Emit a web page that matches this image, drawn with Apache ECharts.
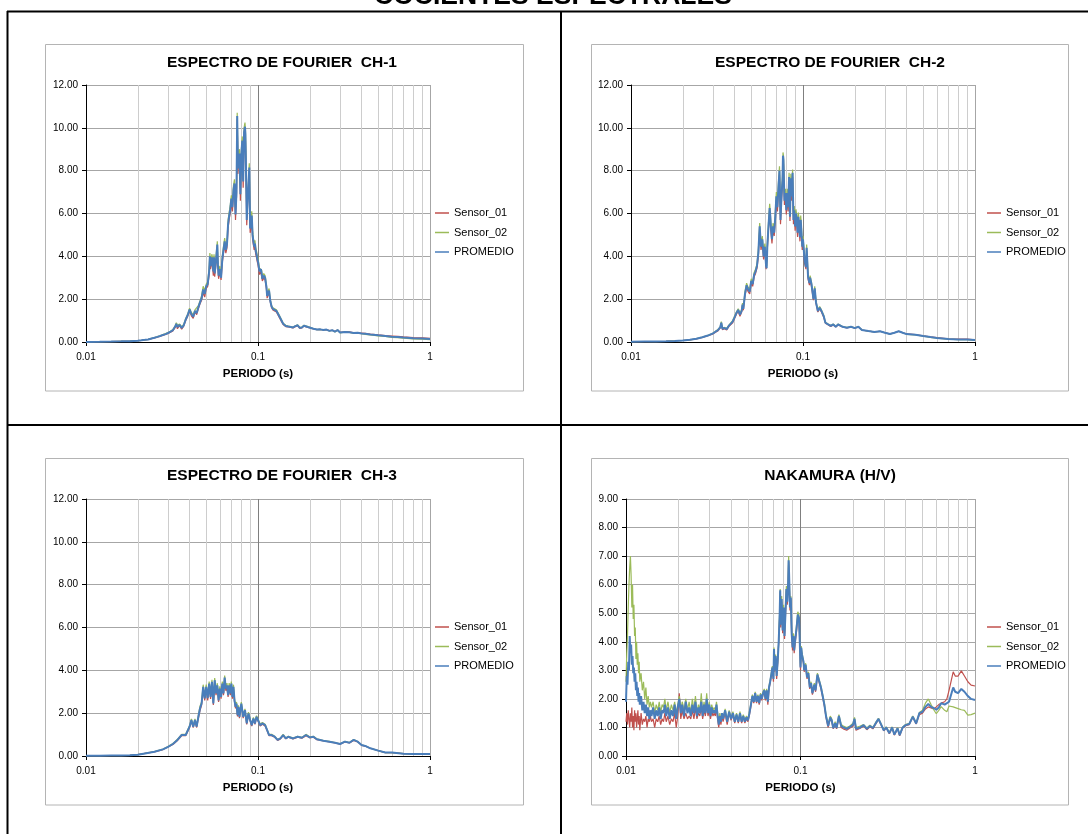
<!DOCTYPE html>
<html>
<head>
<meta charset="utf-8">
<title>COCIENTES ESPECTRALES</title>
<script src="https://cdn.jsdelivr.net/npm/echarts@6/dist/echarts.min.js"></script>
<style>
  html, body { margin: 0; padding: 0; background: #ffffff; }
  #main { width: 1088px; height: 834px; }
</style>
</head>
<body>
<div id="main"></div>
<script>
// ---- Data: periods (s) and spectral amplitudes per channel ----
const seriesNames = ['Sensor_01', 'Sensor_02', 'PROMEDIO'];
const panelTitles = ['ESPECTRO DE FOURIER  CH-1', 'ESPECTRO DE FOURIER  CH-2', 'ESPECTRO DE FOURIER  CH-3', 'NAKAMURA (H/V)'];
const mainTitle = 'COCIENTES ESPECTRALES';
const xAxisName = 'PERIODO (s)';

// CH-1
const ch1Period = [
  0.010,0.012,0.014,0.016,0.018,0.020,0.021,0.022,0.023,0.024,
  0.025,0.026,0.027,0.028,0.029,0.030,0.031,0.032,0.033,0.0335,
  0.034,0.035,0.036,0.037,0.038,0.039,0.040,0.041,0.042,0.043,
  0.044,0.045,0.046,0.047,0.048,0.049,0.050,0.051,0.052,0.0525,
  0.053,0.054,0.055,0.0555,0.056,0.057,0.058,0.0585,0.059,0.060,
  0.061,0.062,0.063,0.064,0.065,0.066,0.067,0.068,0.069,0.070,
  0.071,0.072,0.073,0.074,0.075,0.0757,0.0765,0.077,0.078,0.079,
  0.080,0.081,0.082,0.083,0.084,0.0845,0.085,0.086,0.087,0.088,
  0.089,0.090,0.091,0.092,0.093,0.094,0.095,0.096,0.097,0.098,
  0.099,0.100,0.102,0.104,0.105,0.106,0.108,0.110,0.112,0.113,
  0.114,0.116,0.118,0.120,0.122,0.125,0.128,0.130,0.133,0.136,
  0.140,0.145,0.150,0.155,0.160,0.165,0.170,0.175,0.180,0.185,
  0.190,0.195,0.200,0.210,0.220,0.230,0.240,0.250,0.260,0.270,
  0.280,0.290,0.300,0.320,0.340,0.360,0.380,0.400,0.420,0.450,
  0.500,0.550,0.600,0.650,0.700,0.800,0.900,1.000
];
const ch1Sensor01 = [
  0.00,0.01,0.02,0.03,0.04,0.06,0.08,0.10,0.12,0.15,
  0.19,0.23,0.27,0.31,0.35,0.40,0.46,0.52,0.68,0.80,
  0.62,0.76,0.60,0.74,1.00,1.20,1.45,1.22,1.10,1.40,
  1.28,1.55,1.78,1.95,2.30,2.10,2.50,2.60,3.15,3.85,
  3.40,3.80,3.10,3.80,3.05,3.65,4.40,3.45,2.95,3.25,
  2.90,3.70,4.15,4.55,4.15,4.40,5.30,5.75,6.00,6.55,
  6.10,6.90,7.20,5.70,6.80,10.40,7.85,8.35,8.60,6.60,
  8.55,9.20,7.20,9.60,9.85,9.45,8.30,5.45,6.40,7.10,
  7.95,5.10,5.30,5.70,4.80,4.55,4.30,4.45,4.10,3.95,
  3.75,3.60,3.15,3.30,3.05,2.85,3.00,2.90,2.45,2.05,
  2.15,2.30,1.85,1.60,1.50,1.45,1.40,1.30,1.15,1.00,
  0.82,0.72,0.70,0.68,0.66,0.72,0.76,0.64,0.66,0.74,
  0.76,0.68,0.65,0.61,0.58,0.59,0.56,0.58,0.53,0.55,
  0.49,0.56,0.45,0.48,0.47,0.43,0.44,0.41,0.40,0.37,
  0.33,0.30,0.28,0.26,0.24,0.21,0.19,0.17
];
const ch1Sensor02 = [
  0.00,0.01,0.02,0.03,0.04,0.06,0.08,0.10,0.12,0.17,
  0.21,0.25,0.29,0.35,0.39,0.44,0.50,0.58,0.76,0.90,
  0.78,0.84,0.72,0.82,1.10,1.30,1.58,1.38,1.26,1.50,
  1.42,1.70,1.92,2.15,2.60,2.40,2.70,2.80,3.45,4.15,
  3.70,4.10,3.50,4.10,3.35,3.95,4.70,3.75,3.25,3.55,
  3.10,4.00,4.45,4.85,4.45,4.70,5.70,6.05,6.40,6.85,
  6.50,7.30,7.60,6.20,7.20,10.70,8.35,8.85,9.00,7.20,
  8.95,9.60,7.80,10.00,10.25,9.95,8.90,5.95,6.80,7.50,
  8.35,5.50,5.70,6.10,5.20,4.85,4.60,4.75,4.40,4.25,
  4.05,3.90,3.45,3.50,3.35,3.05,3.20,3.10,2.65,2.25,
  2.35,2.50,1.95,1.70,1.60,1.55,1.50,1.40,1.25,1.10,
  0.88,0.78,0.74,0.72,0.70,0.76,0.80,0.68,0.70,0.78,
  0.80,0.72,0.67,0.63,0.58,0.59,0.56,0.58,0.51,0.55,
  0.47,0.56,0.43,0.46,0.45,0.41,0.42,0.39,0.36,0.33,
  0.29,0.26,0.22,0.20,0.18,0.15,0.13,0.11
];
const ch1Promedio = [
  0.00,0.01,0.02,0.03,0.04,0.06,0.08,0.10,0.12,0.16,
  0.20,0.24,0.28,0.33,0.37,0.42,0.48,0.55,0.72,0.85,
  0.70,0.80,0.66,0.78,1.05,1.25,1.52,1.30,1.18,1.45,
  1.35,1.62,1.85,2.05,2.45,2.25,2.60,2.70,3.30,4.00,
  3.55,3.95,3.30,3.95,3.20,3.80,4.55,3.60,3.10,3.40,
  3.00,3.85,4.30,4.70,4.30,4.55,5.50,5.90,6.20,6.70,
  6.30,7.10,7.40,5.95,7.00,10.55,8.10,8.60,8.80,6.90,
  8.75,9.40,7.50,9.80,10.05,9.70,8.60,5.70,6.60,7.30,
  8.15,5.30,5.50,5.90,5.00,4.70,4.45,4.60,4.25,4.10,
  3.90,3.75,3.30,3.40,3.20,2.95,3.10,3.00,2.55,2.15,
  2.25,2.40,1.90,1.65,1.55,1.50,1.45,1.35,1.20,1.05,
  0.85,0.75,0.72,0.70,0.68,0.74,0.78,0.66,0.68,0.76,
  0.78,0.70,0.66,0.62,0.58,0.59,0.56,0.58,0.52,0.55,
  0.48,0.56,0.44,0.47,0.46,0.42,0.43,0.40,0.38,0.35,
  0.31,0.28,0.25,0.23,0.21,0.18,0.16,0.14
];

// CH-2
const ch2Period = [
  0.010,0.012,0.014,0.016,0.018,0.020,0.022,0.024,0.026,0.028,
  0.030,0.031,0.032,0.033,0.0335,0.034,0.035,0.036,0.037,0.038,
  0.039,0.040,0.041,0.042,0.043,0.044,0.0445,0.045,0.046,0.047,
  0.048,0.049,0.050,0.051,0.052,0.053,0.054,0.055,0.056,0.0565,
  0.057,0.058,0.059,0.060,0.061,0.0615,0.062,0.063,0.064,0.0645,
  0.065,0.066,0.067,0.068,0.069,0.070,0.071,0.072,0.073,0.074,
  0.075,0.076,0.0765,0.077,0.078,0.079,0.080,0.081,0.082,0.083,
  0.084,0.085,0.086,0.087,0.088,0.089,0.090,0.091,0.092,0.093,
  0.094,0.095,0.096,0.097,0.098,0.099,0.100,0.102,0.104,0.105,
  0.107,0.109,0.110,0.112,0.115,0.117,0.119,0.122,0.125,0.128,
  0.132,0.135,0.140,0.145,0.150,0.155,0.160,0.170,0.180,0.190,
  0.200,0.210,0.220,0.240,0.260,0.280,0.300,0.320,0.340,0.360,
  0.380,0.400,0.450,0.500,0.550,0.600,0.700,0.800,0.900,1.000
];
const ch2Sensor01 = [
  0.01,0.02,0.02,0.03,0.05,0.07,0.10,0.14,0.21,0.29,
  0.38,0.46,0.52,0.65,0.85,0.58,0.62,0.56,0.72,0.78,
  0.90,1.10,1.30,1.45,1.20,1.40,1.68,1.48,2.15,2.55,
  2.35,2.25,2.75,2.60,3.05,3.20,3.45,4.00,5.25,4.75,
  4.30,4.65,3.85,4.30,3.40,3.35,4.30,5.25,6.05,5.70,
  5.20,4.60,5.25,4.95,5.65,6.60,6.10,7.05,7.80,5.50,
  6.60,7.35,8.55,8.30,6.40,6.75,5.95,6.75,6.10,7.50,
  5.65,7.45,6.60,7.70,5.50,5.95,5.20,5.80,5.50,4.90,
  5.65,5.20,4.70,5.50,4.90,4.30,4.65,3.70,3.40,4.25,
  2.95,2.65,2.90,2.60,1.95,2.40,1.80,1.40,1.55,1.40,
  1.15,0.88,0.80,0.73,0.80,0.70,0.80,0.70,0.66,0.70,
  0.64,0.70,0.56,0.51,0.47,0.50,0.43,0.38,0.43,0.50,
  0.43,0.38,0.35,0.29,0.24,0.20,0.15,0.13,0.13,0.10
];
const ch2Sensor02 = [
  0.01,0.02,0.02,0.03,0.05,0.07,0.10,0.16,0.23,0.31,
  0.42,0.50,0.58,0.71,0.95,0.66,0.68,0.64,0.78,0.86,
  1.00,1.20,1.40,1.55,1.36,1.50,1.82,1.62,2.35,2.75,
  2.55,2.45,2.95,2.80,3.25,3.40,3.65,4.30,5.55,5.05,
  4.60,4.95,4.15,4.60,3.70,3.55,4.60,5.55,6.45,6.10,
  5.60,5.00,5.55,5.25,6.05,7.00,6.50,7.45,8.20,5.90,
  7.00,7.75,8.85,8.70,6.80,7.15,6.35,7.15,6.50,7.90,
  6.05,7.85,7.00,8.05,5.90,6.35,5.60,6.20,5.90,5.30,
  6.05,5.60,5.10,5.90,5.30,4.60,4.95,4.00,3.60,4.55,
  3.15,2.85,3.10,2.80,2.05,2.60,1.90,1.50,1.65,1.50,
  1.25,0.92,0.84,0.77,0.84,0.72,0.84,0.72,0.68,0.72,
  0.66,0.72,0.56,0.51,0.47,0.50,0.43,0.36,0.43,0.50,
  0.43,0.36,0.33,0.27,0.22,0.18,0.13,0.11,0.11,0.08
];
const ch2Promedio = [
  0.01,0.02,0.02,0.03,0.05,0.07,0.10,0.15,0.22,0.30,
  0.40,0.48,0.55,0.68,0.90,0.62,0.65,0.60,0.75,0.82,
  0.95,1.15,1.35,1.50,1.28,1.45,1.75,1.55,2.25,2.65,
  2.45,2.35,2.85,2.70,3.15,3.30,3.55,4.15,5.40,4.90,
  4.45,4.80,4.00,4.45,3.55,3.45,4.45,5.40,6.25,5.90,
  5.40,4.80,5.40,5.10,5.85,6.80,6.30,7.25,8.00,5.70,
  6.80,7.55,8.70,8.50,6.60,6.95,6.15,6.95,6.30,7.70,
  5.85,7.65,6.80,7.90,5.70,6.15,5.40,6.00,5.70,5.10,
  5.85,5.40,4.90,5.70,5.10,4.45,4.80,3.85,3.50,4.40,
  3.05,2.75,3.00,2.70,2.00,2.50,1.85,1.45,1.60,1.45,
  1.20,0.90,0.82,0.75,0.82,0.71,0.82,0.71,0.67,0.71,
  0.65,0.71,0.56,0.51,0.47,0.50,0.43,0.37,0.43,0.50,
  0.43,0.37,0.34,0.28,0.23,0.19,0.14,0.12,0.12,0.09
];

// CH-3
const ch3Period = [
  0.010,0.012,0.014,0.016,0.018,0.020,0.022,0.025,0.028,0.030,
  0.032,0.034,0.036,0.038,0.040,0.041,0.042,0.043,0.044,0.045,
  0.046,0.047,0.048,0.049,0.050,0.051,0.052,0.053,0.054,0.055,
  0.056,0.057,0.058,0.059,0.060,0.061,0.062,0.063,0.064,0.065,
  0.066,0.067,0.068,0.069,0.070,0.071,0.072,0.073,0.074,0.075,
  0.076,0.077,0.078,0.080,0.082,0.084,0.086,0.088,0.090,0.092,
  0.094,0.096,0.098,0.100,0.103,0.106,0.110,0.113,0.116,0.120,
  0.125,0.130,0.135,0.140,0.145,0.150,0.160,0.170,0.180,0.190,
  0.200,0.210,0.220,0.240,0.260,0.280,0.300,0.320,0.340,0.360,
  0.380,0.400,0.420,0.450,0.500,0.550,0.600,0.700,0.800,1.000
];
const ch3Sensor01 = [
  0.01,0.01,0.02,0.02,0.03,0.06,0.12,0.19,0.30,0.42,
  0.54,0.72,0.95,0.95,1.33,1.63,1.33,1.63,1.33,1.76,
  2.12,2.38,3.13,2.60,3.13,2.60,3.28,2.66,3.36,2.38,
  3.44,2.84,3.20,2.52,3.05,2.68,3.28,2.84,3.56,3.05,
  3.20,2.76,3.20,2.84,3.28,2.68,3.13,2.52,2.22,2.38,
  1.85,2.23,1.77,2.38,1.77,2.08,1.47,1.93,1.63,1.40,
  1.70,1.48,1.78,1.63,1.40,1.48,1.40,1.18,0.95,0.95,
  0.88,0.73,0.80,0.95,0.80,0.88,0.80,0.88,0.83,0.95,
  0.85,0.88,0.76,0.70,0.66,0.61,0.55,0.66,0.61,0.73,
  0.66,0.50,0.46,0.36,0.25,0.16,0.16,0.11,0.09,0.09
];
const ch3Sensor02 = [
  0.01,0.01,0.02,0.02,0.03,0.06,0.12,0.21,0.32,0.44,
  0.58,0.78,1.01,1.01,1.41,1.73,1.41,1.73,1.41,1.90,
  2.32,2.52,3.33,2.78,3.33,2.80,3.48,2.86,3.56,2.52,
  3.64,3.00,3.40,2.68,3.25,2.84,3.48,3.00,3.76,3.25,
  3.40,2.92,3.40,3.00,3.48,2.84,3.33,2.68,2.38,2.52,
  1.97,2.37,1.89,2.52,1.89,2.20,1.57,2.05,1.73,1.48,
  1.80,1.56,1.88,1.73,1.48,1.56,1.48,1.24,1.01,1.01,
  0.92,0.77,0.84,1.01,0.84,0.92,0.84,0.92,0.87,1.01,
  0.89,0.92,0.80,0.72,0.68,0.63,0.57,0.68,0.63,0.77,
  0.68,0.52,0.48,0.36,0.25,0.16,0.16,0.11,0.09,0.09
];
const ch3Promedio = [
  0.01,0.01,0.02,0.02,0.03,0.06,0.12,0.20,0.31,0.43,
  0.56,0.75,0.98,0.98,1.37,1.68,1.37,1.68,1.37,1.83,
  2.22,2.45,3.23,2.69,3.23,2.70,3.38,2.76,3.46,2.45,
  3.54,2.92,3.30,2.60,3.15,2.76,3.38,2.92,3.66,3.15,
  3.30,2.84,3.30,2.92,3.38,2.76,3.23,2.60,2.30,2.45,
  1.91,2.30,1.83,2.45,1.83,2.14,1.52,1.99,1.68,1.44,
  1.75,1.52,1.83,1.68,1.44,1.52,1.44,1.21,0.98,0.98,
  0.90,0.75,0.82,0.98,0.82,0.90,0.82,0.90,0.85,0.98,
  0.87,0.90,0.78,0.71,0.67,0.62,0.56,0.67,0.62,0.75,
  0.67,0.51,0.47,0.36,0.25,0.16,0.16,0.11,0.09,0.09
];

// H/V ratio (Nakamura)
const hvPeriod = [
  0.0100,0.0101,0.0102,0.0103,0.0104,0.0105,0.0106,0.0107,0.0108,0.0109,
  0.0110,0.0111,0.0112,0.0113,0.0114,0.0115,0.0116,0.0117,0.0118,0.0119,
  0.0120,0.0122,0.0124,0.0126,0.0128,0.0130,0.0132,0.0134,0.0136,0.0138,
  0.0140,0.0143,0.0146,0.0149,0.0152,0.0155,0.0158,0.0161,0.0164,0.0167,
  0.0170,0.0174,0.0178,0.0182,0.0186,0.0190,0.0194,0.0198,0.0202,0.0206,
  0.0210,0.0215,0.0220,0.0225,0.0230,0.0235,0.0240,0.0245,0.0250,0.0255,
  0.0260,0.0265,0.0270,0.0275,0.0280,0.0285,0.0290,0.0295,0.0300,0.0305,
  0.0310,0.0315,0.0320,0.0325,0.0330,0.0335,0.0340,0.0345,0.0350,0.0355,
  0.0360,0.0370,0.0380,0.0390,0.0400,0.0410,0.0420,0.0430,0.0440,0.0450,
  0.0460,0.0470,0.0480,0.0490,0.0500,0.0510,0.0520,0.0530,0.0540,0.0550,
  0.0560,0.0570,0.0580,0.0590,0.0600,0.0610,0.0620,0.0630,0.0640,0.0650,
  0.0660,0.0670,0.0680,0.0690,0.0700,0.0705,0.0710,0.0720,0.0730,0.0740,
  0.0750,0.0760,0.0765,0.0770,0.0780,0.0790,0.0800,0.0810,0.0820,0.0830,
  0.0840,0.0850,0.0855,0.0860,0.0870,0.0880,0.0890,0.0900,0.0910,0.0920,
  0.0930,0.0950,0.0965,0.0980,0.0990,0.1000,0.1010,0.1020,0.1040,0.1050,
  0.1070,0.1090,0.1110,0.1130,0.1150,0.1170,0.1200,0.1220,0.1250,0.1280,
  0.1310,0.1340,0.1370,0.1400,0.1440,0.1480,0.1510,0.1540,0.1580,0.1610,
  0.1660,0.1710,0.1760,0.1840,0.1920,0.2000,0.2040,0.2080,0.2200,0.2300,
  0.2400,0.2500,0.2600,0.2700,0.2800,0.2900,0.3000,0.3100,0.3230,0.3350,
  0.3450,0.3600,0.3700,0.3850,0.4000,0.4200,0.4400,0.4600,0.4800,0.5000,
  0.520,0.540,0.560,0.580,0.600,0.620,0.640,0.670,0.690,0.710,
  0.750,0.770,0.800,0.835,0.870,0.910,0.950,1.000
];
const hvSensor01 = [
  1.2,1.5,1.1,1.6,1.3,1.0,1.5,1.2,1.7,1.0,
  1.4,0.9,1.6,1.2,1.5,1.0,1.3,1.6,1.1,1.4,
  0.9,1.5,1.1,1.3,1.2,1.4,1.0,1.3,1.2,1.4,
  1.2,1.3,1.0,1.3,1.2,1.4,1.1,1.3,1.2,1.5,
  1.2,1.4,1.1,1.3,1.2,1.5,1.0,1.4,2.2,1.3,
  1.6,1.3,1.5,1.3,1.4,1.3,1.6,1.3,1.7,1.3,
  1.5,1.4,1.7,1.3,1.6,1.4,1.8,1.4,1.6,1.3,
  1.6,1.4,1.5,1.4,1.7,1.3,1.0,1.3,1.1,1.4,
  1.2,1.5,1.1,1.5,1.25,1.45,1.15,1.4,1.15,1.45,
  1.15,1.35,1.15,1.3,1.2,1.45,1.75,2.05,1.85,2.15,
  1.85,2.05,1.8,2.1,1.95,2.15,2.25,1.95,2.25,1.8,
  2.35,2.55,2.8,3.0,2.6,3.7,2.95,3.45,2.7,3.25,
  3.95,4.9,5.75,4.5,5.4,4.3,5.1,4.1,4.9,5.8,
  5.3,6.0,6.8,6.3,5.1,5.5,4.2,3.7,4.1,3.6,
  3.9,4.4,4.9,4.8,4.0,3.0,3.7,3.5,3.25,2.95,
  3.15,2.7,2.85,2.35,2.5,2.15,2.45,2.25,2.8,2.85,
  2.35,2.05,1.75,1.35,1.0,1.3,1.2,0.95,1.1,0.95,
  1.35,1.0,0.95,0.9,0.98,1.05,1.25,0.9,0.97,1.05,
  0.92,1.02,0.95,1.12,1.28,1.08,0.88,0.98,0.78,0.98,
  0.73,0.95,0.71,0.98,1.06,1.1,1.36,1.12,1.45,1.5,
  1.65,1.72,1.68,1.65,1.72,1.8,1.85,1.9,2.0,2.3,
  2.95,2.8,2.8,2.98,2.8,2.6,2.48,2.45
];
const hvSensor02 = [
  2.6,3.6,4.2,5.2,6.0,6.6,7.0,6.3,5.2,6.0,
  4.8,5.3,4.2,4.5,3.4,4.0,3.2,3.6,2.9,3.3,
  2.6,2.9,2.3,2.6,2.0,2.4,1.8,2.1,1.7,1.9,
  1.7,1.9,1.5,1.8,1.6,1.9,1.5,1.8,1.7,2.0,
  1.6,1.9,1.5,1.8,1.6,1.9,1.5,1.8,2.1,1.6,
  1.9,1.6,2.0,1.6,1.9,1.5,2.0,1.6,2.1,1.5,
  1.8,1.6,2.2,1.5,1.9,1.6,2.2,1.6,1.9,1.5,
  1.8,1.6,1.7,1.6,1.9,1.5,1.15,1.5,1.25,1.5,
  1.3,1.65,1.25,1.6,1.35,1.55,1.25,1.5,1.25,1.55,
  1.25,1.45,1.25,1.4,1.3,1.55,1.85,2.15,1.95,2.25,
  1.95,2.15,1.9,2.2,2.05,2.25,2.35,2.05,2.35,1.95,
  2.45,2.65,2.9,3.15,2.75,3.8,3.05,3.55,2.85,3.35,
  4.05,5.1,5.85,4.7,5.6,4.5,5.3,4.3,5.1,5.95,
  5.5,6.25,7.0,6.5,5.3,5.6,4.35,3.9,4.3,3.8,
  4.1,4.6,5.05,4.95,4.1,3.15,3.85,3.6,3.35,3.05,
  3.25,2.8,2.95,2.45,2.6,2.25,2.55,2.35,2.9,2.95,
  2.45,2.15,1.85,1.45,1.1,1.4,1.3,1.0,1.2,1.0,
  1.45,1.1,1.05,1.0,1.05,1.15,1.35,1.0,1.05,1.1,
  0.98,1.08,1.0,1.18,1.32,1.12,0.92,1.02,0.82,1.02,
  0.77,0.99,0.75,1.02,1.1,1.14,1.4,1.16,1.52,1.6,
  1.85,2.0,1.8,1.62,1.48,1.6,1.73,1.6,1.55,1.75,
  1.72,1.68,1.66,1.62,1.6,1.43,1.45,1.5
];
const hvPromedio = [
  1.9,2.8,2.5,3.3,3.0,4.2,3.6,3.9,3.2,3.5,
  2.9,3.1,2.6,2.9,2.3,2.6,2.1,2.4,1.9,2.2,
  1.8,2.1,1.6,1.9,1.5,1.8,1.4,1.7,1.3,1.6,
  1.4,1.7,1.3,1.6,1.4,1.7,1.3,1.6,1.5,1.8,
  1.4,1.7,1.3,1.6,1.4,1.8,1.3,1.7,2.0,1.5,
  1.8,1.4,1.9,1.5,1.7,1.4,1.8,1.5,1.9,1.4,
  1.7,1.5,1.9,1.4,1.8,1.5,2.0,1.5,1.8,1.4,
  1.7,1.5,1.6,1.5,1.8,1.4,1.1,1.4,1.2,1.5,
  1.3,1.6,1.2,1.55,1.3,1.5,1.2,1.45,1.2,1.5,
  1.2,1.4,1.2,1.35,1.25,1.5,1.8,2.1,1.9,2.2,
  1.9,2.1,1.85,2.15,2.0,2.2,2.3,2.0,2.3,1.9,
  2.4,2.6,2.85,3.1,2.7,3.75,3.0,3.5,2.8,3.3,
  4.0,5.0,5.8,4.6,5.5,4.4,5.2,4.2,5.0,5.85,
  5.4,6.1,6.85,6.4,5.2,5.55,4.3,3.8,4.2,3.7,
  4.0,4.5,4.95,4.85,4.05,3.1,3.8,3.55,3.3,3.0,
  3.2,2.75,2.9,2.4,2.55,2.2,2.5,2.3,2.85,2.9,
  2.4,2.1,1.8,1.4,1.05,1.35,1.25,0.98,1.15,0.98,
  1.4,1.05,1.0,0.95,1.02,1.1,1.3,0.95,1.0,1.08,
  0.95,1.05,0.98,1.15,1.3,1.1,0.9,1.0,0.8,1.0,
  0.75,0.97,0.73,1.0,1.08,1.12,1.38,1.14,1.5,1.55,
  1.72,1.82,1.72,1.68,1.62,1.7,1.85,1.8,1.85,1.9,
  2.4,2.25,2.2,2.35,2.25,2.1,2.0,1.96
];

// Axis ranges and ticks
const xRange = [0.01, 1];
const yMaxSpectrum = 12, yStepSpectrum = 2;
const yMaxHV = 9, yStepHV = 1;

// ---- Layout (pixels) ----
const FONT = "'Liberation Sans', Arial, Helvetica, sans-serif";
const COLORS = ['#C0504D', '#9BBB59', '#4A7EBB'];
const LINE_W = [1.2, 1.2, 2];

const panels = [
  { grid: { left: 86, top: 85, width: 344, height: 257 }, yMax: yMaxSpectrum, yStep: yStepSpectrum,
    titleX: 282, titleY: 63, legendX: 435, legendY: 206.5, box: [45.5, 44.5, 478, 346.5],
    period: ch1Period, values: [ch1Sensor01, ch1Sensor02, ch1Promedio] },
  { grid: { left: 631, top: 85, width: 344, height: 257 }, yMax: yMaxSpectrum, yStep: yStepSpectrum,
    titleX: 830, titleY: 63, legendX: 987, legendY: 206.5, box: [591.5, 44.5, 477, 346.5],
    period: ch2Period, values: [ch2Sensor01, ch2Sensor02, ch2Promedio] },
  { grid: { left: 86, top: 499, width: 344, height: 257 }, yMax: yMaxSpectrum, yStep: yStepSpectrum,
    titleX: 282, titleY: 476, legendX: 435, legendY: 620.5, box: [45.5, 458.5, 478, 346.5],
    period: ch3Period, values: [ch3Sensor01, ch3Sensor02, ch3Promedio] },
  { grid: { left: 626, top: 499, width: 349, height: 257 }, yMax: yMaxHV, yStep: yStepHV,
    titleX: 830, titleY: 476, legendX: 987, legendY: 620.5, box: [591.5, 458.5, 477, 346.5],
    period: hvPeriod, values: [hvSensor01, hvSensor02, hvPromedio] }
];

function toPairs(period, vals) {
  return period.map((t, i) => [t, vals[i]]);
}

const grids = [], xAxes = [], yAxes = [], series = [], legends = [], graphics = [];

panels.forEach((p, k) => {
  grids.push(Object.assign({ containLabel: false }, p.grid));

  xAxes.push({
    type: 'log', logBase: 10, gridIndex: k, min: xRange[0], max: xRange[1],
    name: xAxisName, nameLocation: 'middle', nameGap: 32,
    nameTextStyle: { fontFamily: FONT, fontSize: 11.5, fontWeight: 'bold', color: '#000', verticalAlign: 'middle' },
    axisLine: { onZero: false, lineStyle: { color: '#000', width: 1 } },
    axisTick: { show: true, inside: false, length: 4, lineStyle: { color: '#000' } },
    axisLabel: { fontFamily: FONT, fontSize: 10, color: '#000', margin: 10,
                 formatter: v => String(+Number(v).toPrecision(3)) },
    splitLine: { show: true, lineStyle: { color: ['#000000', '#7f7f7f', '#a6a6a6'], width: 1 } },
    minorTick: { show: false, splitNumber: 9 },
    minorSplitLine: { show: true, lineStyle: { color: '#cdcdcd', width: 1 } }
  });

  yAxes.push({
    type: 'value', gridIndex: k, min: 0, max: p.yMax, interval: p.yStep,
    axisLine: { show: true, onZero: false, lineStyle: { color: '#000', width: 1 } },
    axisTick: { show: true, inside: false, length: 4, lineStyle: { color: '#000' } },
    axisLabel: { fontFamily: FONT, fontSize: 10, color: '#000', margin: 8,
                 formatter: v => Number(v).toFixed(2) },
    splitLine: { show: true, lineStyle: { color: '#a6a6a6', width: 1.2 } }
  });

  seriesNames.forEach((name, j) => {
    series.push({
      type: 'line', name: name, xAxisIndex: k, yAxisIndex: k,
      data: toPairs(p.period, p.values[j]),
      showSymbol: false, symbol: 'none', smooth: false,
      lineStyle: { color: COLORS[j], width: LINE_W[j] },
      itemStyle: { color: COLORS[j] },
      z: 3 + j, animation: false, silent: true
    });
  });

  legends.push({
    orient: 'vertical', left: p.legendX, top: p.legendY, padding: 0,
    itemWidth: 14, itemHeight: 1.5, itemGap: 6.5, icon: 'rect',
    selectedMode: false,
    textStyle: { fontFamily: FONT, fontSize: 11, color: '#000', lineHeight: 13 },
    data: seriesNames
  });

  // chart-area frame
  graphics.push({
    type: 'rect', silent: true, z: 0,
    shape: { x: p.box[0], y: p.box[1], width: p.box[2], height: p.box[3] },
    style: { fill: 'none', stroke: '#b4b4b4', lineWidth: 1 }
  });
  // panel title
  graphics.push({
    type: 'text', silent: true, z: 10, x: p.titleX, y: p.titleY,
    style: { text: panelTitles[k], fill: '#000', font: 'bold 15.5px ' + FONT,
             textAlign: 'center', textVerticalAlign: 'middle' }
  });
});

// sheet table lines
const tableLines = [
  [7, 11.5, 1088, 11.5],
  [7.5, 11, 7.5, 834],
  [561, 11, 561, 834],
  [7, 425, 1088, 425]
];
tableLines.forEach(l => {
  graphics.push({
    type: 'line', silent: true, z: 10,
    shape: { x1: l[0], y1: l[1], x2: l[2], y2: l[3] },
    style: { stroke: '#000', lineWidth: 2 }
  });
});
// sheet heading
graphics.push({
  type: 'text', silent: true, z: 10, x: 553, y: -3,
  style: { text: mainTitle, fill: '#000', font: 'bold 26.5px ' + FONT,
           textAlign: 'center', textVerticalAlign: 'middle' }
});

const chart = echarts.init(document.getElementById('main'), null, { renderer: 'canvas' });
chart.setOption({
  backgroundColor: '#ffffff',
  animation: false,
  grid: grids,
  xAxis: xAxes,
  yAxis: yAxes,
  legend: legends,
  series: series,
  graphic: { elements: graphics }
});
</script>
</body>
</html>
